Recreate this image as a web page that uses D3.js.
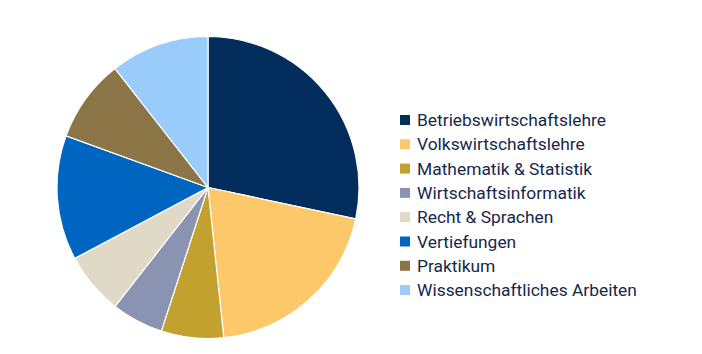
<!DOCTYPE html>
<html lang="de">
<head>
<meta charset="utf-8">
<script src="https://d3js.org/d3.v7.min.js"></script>
<style>
  body { margin: 0; background: #fff; }
  svg text { font-family: Roboto, sans-serif; }
</style>
</head>
<body>
<div id="chart"></div>
<script>
// ECTS-Anteile je Bereich (aus dem Bild geschätzt)
var categories = ["Betriebswirtschaftslehre", "Volkswirtschaftslehre", "Mathematik & Statistik",
  "Wirtschaftsinformatik", "Recht & Sprachen", "Vertiefungen", "Praktikum", "Wissenschaftliches Arbeiten"];
var values = [51, 36, 12, 10, 12, 24, 16, 19];
var colors = ["#022d5c", "#fcc869", "#c2a12e", "#8a94b2", "#e0d9c7", "#0064c1", "#8b7445", "#99cbfb"];

var width = 702, height = 354;
var cx = 208, cy = 187.5, radius = 151;

var svg = d3.select("#chart").append("svg")
  .attr("width", width)
  .attr("height", height);

var data = categories.map(function(c, i) { return { name: c, value: values[i], color: colors[i] }; });

var pie = d3.pie().sort(null).value(function(d) { return d.value; });
var arc = d3.arc().innerRadius(0).outerRadius(radius);

var g = svg.append("g").attr("transform", "translate(" + cx + "," + cy + ")");
g.selectAll("path")
  .data(pie(data))
  .enter().append("path")
  .attr("d", arc)
  .attr("fill", function(d) { return d.data.color; })
  .attr("stroke", "#fff")
  .attr("stroke-width", 1.2);

// legend
var legend = svg.append("g").attr("transform", "translate(400,120)");
var row = legend.selectAll("g")
  .data(data)
  .enter().append("g")
  .attr("transform", function(d, i) { return "translate(0," + (i * 24.3) + ")"; });

row.append("rect")
  .attr("x", 0).attr("y", -5)
  .attr("width", 10).attr("height", 10)
  .attr("fill", function(d) { return d.color; });

row.append("text")
  .attr("x", 17)
  .attr("y", 0)
  .attr("dy", "0.35em")
  .attr("font-size", 17.4)
  .attr("fill", "#16284a")
  .text(function(d) { return d.name; });
</script>
</body>
</html>
